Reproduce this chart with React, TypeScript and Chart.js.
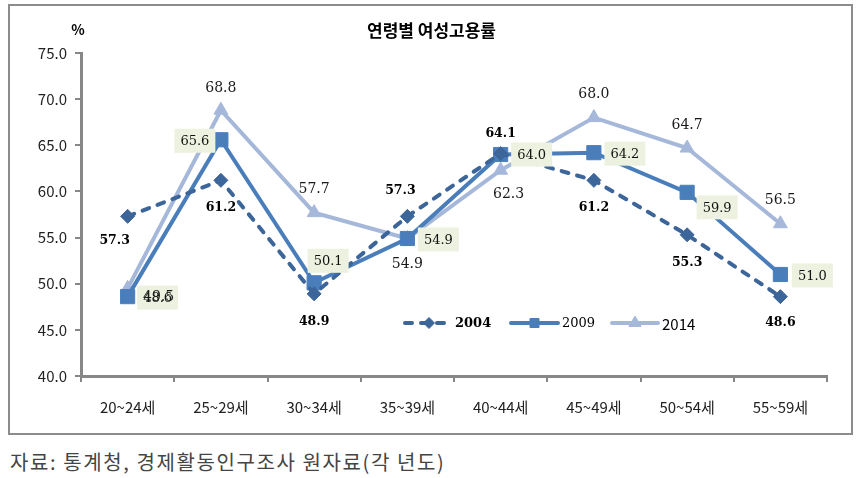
import React, { useEffect, useRef } from 'react';
import { Chart, registerables } from 'chart.js';

Chart.register(...registerables);

// ---------- data ----------
const categories = ['20~24세', '25~29세', '30~34세', '35~39세', '40~44세', '45~49세', '50~54세', '55~59세'];
const series2004 = [57.3, 61.2, 48.9, 57.3, 64.1, 61.2, 55.3, 48.6];
const series2009 = [48.6, 65.6, 50.1, 54.9, 64.0, 64.2, 59.9, 51.0];
const series2014 = [49.5, 68.8, 57.7, 54.9, 62.3, 68.0, 64.7, 56.5];
const seriesNames = ['2004', '2009', '2014'];
const yMin = 40;
const yMax = 75;
const yStep = 5;
const chartTitle = '연령별 여성고용률';
const unitLabel = '%';
const sourceNote = '자료: 통계청, 경제활동인구조사 원자료(각 년도)';

// ---------- layout / style ----------
const C2004 = '#3C6599';
const C2009 = '#4A7EBB';
const C2014 = '#A6B8DA';
const AXIS = '#878787';
const BOX_BG = '#EDF2E0';
const SANS = '"Noto Sans CJK KR", "Noto Sans", sans-serif';
const SERIF = '"DejaVu Serif", serif';

// label offsets (pixels relative to each point)
const off2004 = [[-13, 24], [0, 27], [0, 28], [-7, -26], [0, -20], [0, 27], [0, 28], [0, 26]];
const off2009 = [[30, 1], [-26, 1], [14, -22], [31, 1], [31, 0], [31, 1], [30, 15], [32, 1]];
const off2014 = [[31, 9], [0, -22], [0, -23], [0, 26], [8, 24], [0, -23], [0, -23], [0, -23]];

function marker(ctx: CanvasRenderingContext2D, style: string, x: number, y: number, r: number, color: string) {
  ctx.save();
  ctx.fillStyle = color;
  ctx.strokeStyle = color;
  ctx.lineWidth = 1;
  ctx.setLineDash([]);
  ctx.beginPath();
  if (style === 'rectRot') {
    ctx.moveTo(x - r, y);
    ctx.lineTo(x, y - r);
    ctx.lineTo(x + r, y);
    ctx.lineTo(x, y + r);
    ctx.closePath();
  } else if (style === 'rect') {
    ctx.rect(x - r, y - r, 2 * r, 2 * r);
  } else {
    const h = r * 0.866;
    ctx.moveTo(x, y - r);
    ctx.lineTo(x + h, y + r / 2);
    ctx.lineTo(x - h, y + r / 2);
    ctx.closePath();
  }
  ctx.fill();
  ctx.stroke();
  ctx.restore();
}

const overlayPlugin = {
  id: 'overlay',
  afterDatasetsDraw(chart: any) {
    const ctx: CanvasRenderingContext2D = chart.ctx;
    const m2004 = chart.getDatasetMeta(0).data;
    const m2009 = chart.getDatasetMeta(1).data;
    const m2014 = chart.getDatasetMeta(2).data;
    ctx.save();
    ctx.textAlign = 'center';
    ctx.textBaseline = 'middle';
    // 2009 boxed labels
    ctx.font = `13px ${SERIF}`;
    series2009.forEach((v, i) => {
      const p = m2009[i];
      const cx = p.x + off2009[i][0];
      const cy = p.y + off2009[i][1];
      ctx.fillStyle = BOX_BG;
      ctx.fillRect(cx - 20.5, cy - 12, 41, 24);
      ctx.fillStyle = '#111';
      ctx.fillText(v.toFixed(1), cx, cy + 1);
    });
    // 2014 labels
    ctx.font = `14px ${SERIF}`;
    ctx.fillStyle = '#1a1a1a';
    series2014.forEach((v, i) => {
      const p = m2014[i];
      ctx.fillText(v.toFixed(1), p.x + off2014[i][0], p.y + off2014[i][1]);
    });
    // 2004 labels
    ctx.font = `bold 12.5px ${SERIF}`;
    ctx.fillStyle = '#000';
    series2004.forEach((v, i) => {
      const p = m2004[i];
      ctx.fillText(v.toFixed(1), p.x + off2004[i][0], p.y + off2004[i][1]);
    });
    ctx.restore();
  },
  afterDraw(chart: any) {
    const ctx: CanvasRenderingContext2D = chart.ctx;
    const w = chart.width;
    ctx.save();
    // title
    ctx.textAlign = 'center';
    ctx.textBaseline = 'middle';
    ctx.fillStyle = '#000';
    ctx.font = `bold 17px ${SANS}`;
    ctx.fillText(chartTitle, w / 2 + 1, 25);
    // unit
    ctx.font = `bold 14px ${SANS}`;
    ctx.fillText(unitLabel, 68, 24);

    // legend
    const ly = 317;
    const items = [
      { name: seriesNames[0], color: C2004, style: 'rectRot', x0: 395, x1: 437, tx: 445, font: `bold 13px ${SERIF}`, dash: [7, 9], r: 5.5 },
      { name: seriesNames[1], color: C2009, style: 'rect', x0: 501, x1: 548, tx: 552, font: `13px ${SERIF}`, dash: [] as number[], r: 4.5 },
      { name: seriesNames[2], color: C2014, style: 'triangle', x0: 602, x1: 648, tx: 652, font: `15px ${SANS}`, dash: [] as number[], r: 7 },
    ];
    items.forEach((it) => {
      ctx.save();
      ctx.strokeStyle = it.color;
      ctx.lineWidth = 4;
      ctx.lineCap = 'round';
      ctx.setLineDash(it.dash);
      ctx.beginPath();
      ctx.moveTo(it.x0, ly);
      ctx.lineTo(it.x1, ly);
      ctx.stroke();
      ctx.restore();
      marker(ctx, it.style, (it.x0 + it.x1) / 2 + (it.style === 'rectRot' ? 3 : 0), ly, it.r, it.color);
      ctx.textAlign = 'left';
      ctx.textBaseline = 'middle';
      ctx.fillStyle = '#000';
      ctx.font = it.font;
      ctx.fillText(it.name, it.tx, ly + 1);
    });
    ctx.restore();
  },
};

export default function App() {
  const ref = useRef<HTMLCanvasElement>(null);
  useEffect(() => {
    const chart = new Chart(ref.current as HTMLCanvasElement, {
      type: 'line',
      data: {
        labels: categories,
        datasets: [
          {
            label: seriesNames[0],
            data: series2004,
            borderColor: C2004,
            backgroundColor: C2004,
            borderWidth: 4,
            borderDash: [7, 9],
            borderCapStyle: 'round',
            pointStyle: 'rectRot',
            pointRadius: 7,
            pointBorderWidth: 1,
            pointBackgroundColor: C2004,
            pointBorderColor: C2004,
            tension: 0,
          },
          {
            label: seriesNames[1],
            data: series2009,
            borderColor: C2009,
            backgroundColor: C2009,
            borderWidth: 4,
            pointStyle: 'rect',
            pointRadius: 10,
            pointBorderWidth: 1,
            pointBackgroundColor: C2009,
            pointBorderColor: C2009,
            tension: 0,
          },
          {
            label: seriesNames[2],
            data: series2014,
            borderColor: C2014,
            backgroundColor: C2014,
            borderWidth: 4,
            pointStyle: 'triangle',
            pointRadius: 8,
            pointBorderWidth: 1,
            pointBackgroundColor: C2014,
            pointBorderColor: C2014,
            tension: 0,
          },
        ],
      },
      options: {
        responsive: false,
        animation: false,
        devicePixelRatio: 1,
        layout: { padding: { top: 47, right: 24, left: 0, bottom: 0 } },
        plugins: {
          legend: { display: false },
          title: { display: false },
          tooltip: { enabled: false },
        },
        scales: {
          x: {
            offset: true,
            grid: { display: true, drawOnChartArea: false, drawTicks: true, tickLength: 6, color: AXIS, lineWidth: 2, offset: true },
            border: { display: true, color: AXIS, width: 3 },
            ticks: { font: { family: SANS, size: 15 }, color: '#222', padding: 16, maxRotation: 0, autoSkip: false },
            afterFit: (s: any) => { s.height = 57; },
          },
          y: {
            min: yMin,
            max: yMax,
            grid: { display: true, drawOnChartArea: false, drawTicks: true, tickLength: 6, color: AXIS, lineWidth: 2 },
            border: { display: true, color: AXIS, width: 3 },
            ticks: {
              stepSize: yStep,
              font: { family: SANS, size: 15 },
              color: '#222',
              padding: 8,
              callback: (v: any) => Number(v).toFixed(1),
            },
            afterFit: (s: any) => { s.width = 71; },
          },
        },
      },
      plugins: [overlayPlugin],
    } as any);
    return () => chart.destroy();
  }, []);

  return (
    <div style={{ position: 'absolute', left: 0, top: 0, width: 864, height: 478, background: '#fff' }}>
      <div
        style={{
          position: 'absolute',
          left: 8,
          top: 4,
          width: 845,
          height: 431,
          border: '2px solid #8c8c8c',
          boxSizing: 'border-box',
          background: '#fff',
        }}
      >
        <canvas ref={ref} width={841} height={427} style={{ display: 'block', width: 841, height: 427 }} />
      </div>
      <div
        style={{
          position: 'absolute',
          left: 10,
          top: 449,
          fontFamily: SANS,
          fontSize: 20,
          lineHeight: '26px',
          color: '#444',
          letterSpacing: '1.6px',
          whiteSpace: 'nowrap',
        }}
      >
        {sourceNote}
      </div>
    </div>
  );
}
